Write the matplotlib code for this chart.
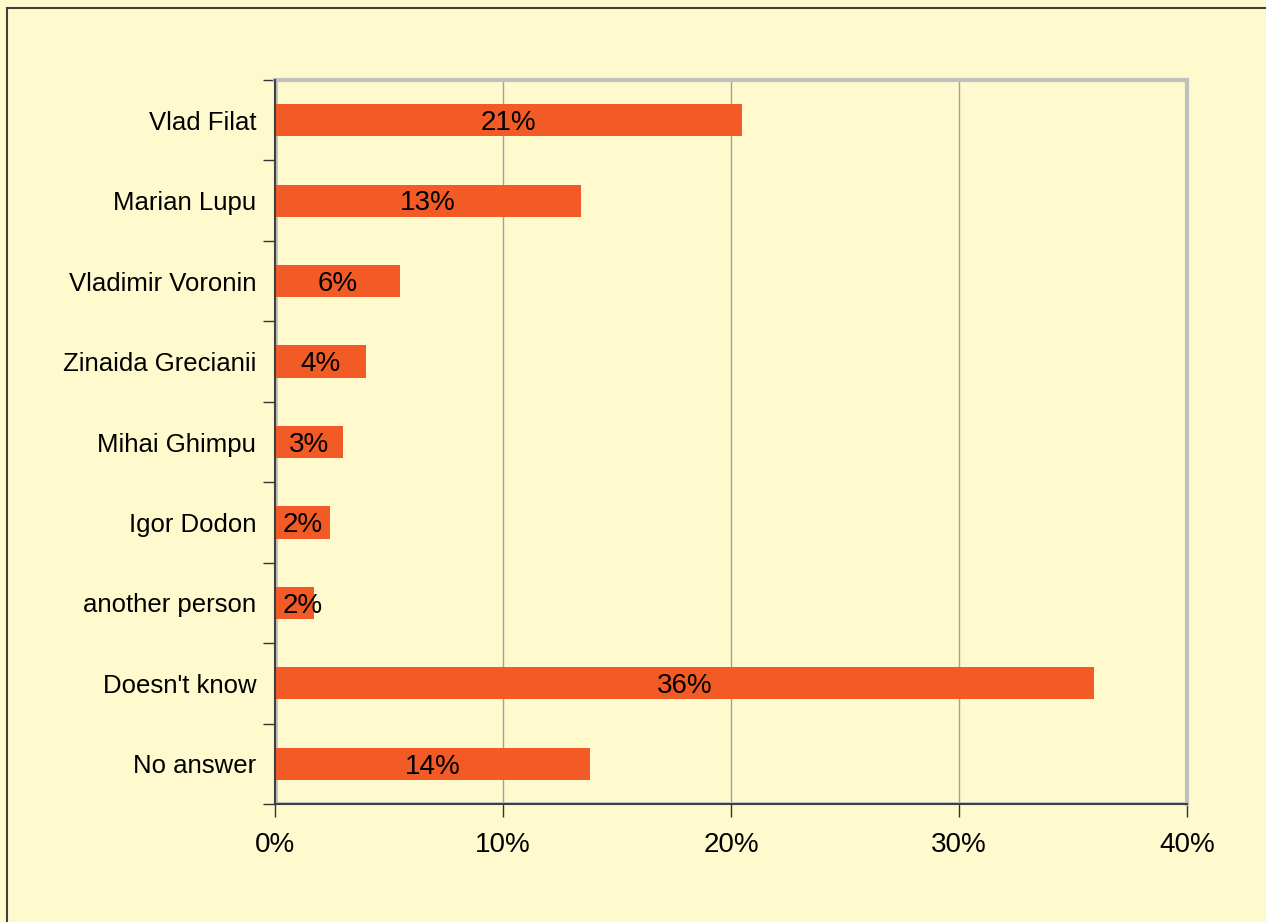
import matplotlib.pyplot as plt
import matplotlib.patches as patches
from matplotlib.ticker import FixedLocator

categories = ['Vlad Filat', 'Marian Lupu', 'Vladimir Voronin', 'Zinaida Grecianii',
              'Mihai Ghimpu', 'Igor Dodon', 'another person', "Doesn't know", 'No answer']
values = [20.5, 13.4, 5.5, 4.0, 3.0, 2.4, 1.7, 35.9, 13.8]
labels = ['21%', '13%', '6%', '4%', '3%', '2%', '2%', '36%', '14%']
xticks = [0, 10, 20, 30, 40]
xtick_labels = ['0%', '10%', '20%', '30%', '40%']

bg = '#FFFACD'
bar_color = '#F25A26'

plt.rcParams['font.family'] = ['Liberation Sans', 'DejaVu Sans']

fig = plt.figure(figsize=(12.66, 9.22), dpi=100)
fig.patch.set_facecolor(bg)

# outer frame of the chart
fig.add_artist(patches.Rectangle((7 / 1266, -0.01), 1.2, 1 - 8 / 922 + 0.01,
                                 transform=fig.transFigure, fill=False,
                                 edgecolor='#404040', linewidth=1.5))

ax = fig.add_axes([275 / 1266, 1 - 804 / 922, (1187 - 275) / 1266, (804 - 80) / 922])
ax.set_facecolor(bg)

n = len(categories)
ypos = list(range(n))
ax.barh(ypos, values, height=0.4, color=bar_color, zorder=3)
for y, v, t in zip(ypos, values, labels):
    ax.annotate(t, (max(v / 2, 1.2), y), xytext=(0, -2), textcoords='offset points',
                ha='center', va='center', fontsize=20, color='black', zorder=4)

ax.set_xlim(0, 40)
ax.set_ylim(n - 0.5, -0.5)
ax.set_xticks(xticks)
ax.set_xticklabels(xtick_labels, fontsize=20)
ax.set_yticks(ypos)
ax.set_yticklabels(categories, fontsize=18.5)
ax.tick_params(axis='y', which='major', length=0, pad=13.5)
ax.yaxis.set_minor_locator(FixedLocator([i - 0.5 for i in range(n + 1)]))
ax.tick_params(axis='y', which='minor', length=9, width=1, color='#333333')
ax.tick_params(axis='x', length=9, width=1, color='#333333', pad=11)

ax.grid(axis='x', color='#A0A0A0', linewidth=1, zorder=1)

for s in ['top', 'right']:
    ax.spines[s].set_color('#C0C0C0')
    ax.spines[s].set_linewidth(3)
for s in ['left', 'bottom']:
    ax.spines[s].set_color('#404040')
    ax.spines[s].set_linewidth(1.5)
    ax.spines[s].set_zorder(5)
# grey shadow next to the dark axes lines
ax.axvline(0.06, color='#C0C0C0', linewidth=2, zorder=2)
ax.axhline(n - 0.5 - 0.012, color='#C0C0C0', linewidth=2, zorder=2)

fig.savefig('out.png', dpi=100, facecolor=bg)
